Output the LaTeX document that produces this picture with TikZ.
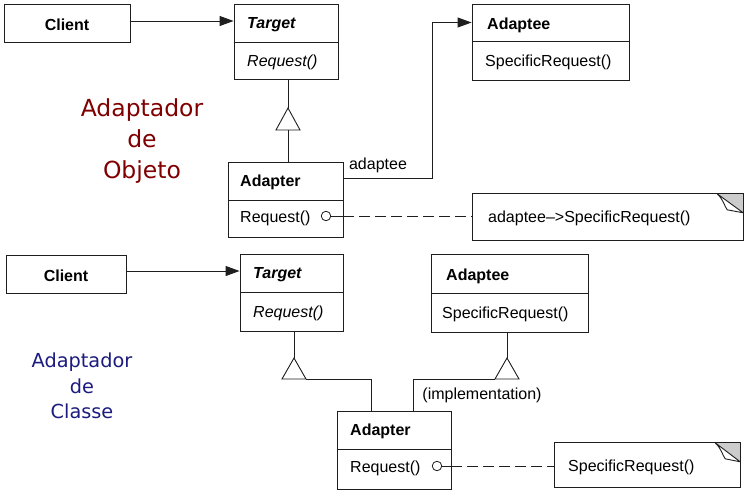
\documentclass[tikz,border=0pt]{standalone}
\usepackage{fontspec}
\setmainfont{Liberation Sans}
\newfontfamily\dejavu{DejaVu Sans}
\usetikzlibrary{arrows.meta}
\definecolor{objred}{RGB}{128,0,0}
\definecolor{clsblue}{RGB}{28,28,128}
\definecolor{foldgray}{RGB}{204,204,204}
\definecolor{linegray}{RGB}{30,30,30}
\begin{document}
\begin{tikzpicture}[x=1pt,y=-1pt,
  every node/.style={font=\fontsize{16}{19}\selectfont, text=black},
  box/.style={draw=linegray, line width=0.9pt, inner sep=0pt, rectangle},
  txt/.style={anchor=west, inner sep=0pt, yshift=-2pt},
  ctxt/.style={inner sep=0pt, yshift=-2pt},
  hd/.style={txt, font=\fontsize{16}{19}\selectfont\bfseries},
  link/.style={draw=linegray, line width=0.9pt},
  assoc/.style={link, -{Triangle[length=14pt,width=10pt]}},
  dep/.style={link, dash pattern=on 11pt off 5pt},
  gen/.style={link, fill=white},
  pin/.style={circle, draw=linegray, fill=white, inner sep=0pt, minimum size=9.5pt, line width=0.8pt},
  noteframe/.style={inner sep=0pt, rectangle},
  title/.style={align=center, inner sep=0pt}
]
\useasboundingbox (0,0) rectangle (747,493);
\fill[white] (0,0) rectangle (747,493);

% ===================== Adaptador de Objeto =====================
\node[box, minimum width=126pt, minimum height=38pt] (clientA) at (67,23) {};
\node[ctxt, font=\fontsize{16}{19}\selectfont\bfseries] (clientAt) at (67,23) {Client};

\node[box, minimum width=104pt, minimum height=38pt] (tgtAh) at (286,23) {};
\node[box, minimum width=104pt, minimum height=37pt] (tgtAb) at (286,60.5) {};
\node[hd, font=\fontsize{16}{19}\selectfont\bfseries\itshape] (tgtAht) at (247,23) {Target};
\node[txt, font=\fontsize{16}{19}\selectfont\itshape] (tgtAbt) at (247,60) {Request()};

\node[box, minimum width=157pt, minimum height=37pt] (adeAh) at (550.5,22.5) {};
\node[box, minimum width=157pt, minimum height=39pt] (adeAb) at (550.5,60.5) {};
\node[hd] (adeAht) at (487,23) {Adaptee};
\node[txt] (adeAbt) at (485,60) {SpecificRequest()};

\node[box, minimum width=115pt, minimum height=38pt] (adpAh) at (285.5,181) {};
\node[box, minimum width=115pt, minimum height=37pt] (adpAb) at (285.5,218.5) {};
\node[hd] (adpAht) at (240,180) {Adapter};
\node[txt] (adpAbt) at (240,216) {Request()};
\node[pin] (cA) at (326,216) {};

\node[noteframe, minimum width=270pt, minimum height=46pt] (noteA) at (608,217) {};
\fill[white] (noteA.south west) -- (noteA.north west) -- ([xshift=-26pt]noteA.north east)
  -- ([yshift=-19pt]noteA.north east) -- (noteA.south east) -- cycle;
\fill[foldgray] ([xshift=-26pt]noteA.north east) -- (noteA.north east) -- ([yshift=-19pt]noteA.north east) -- cycle;
\draw[link, line join=miter] (noteA.south west) -- (noteA.north west) -- ([xshift=-26pt]noteA.north east)
  -- (noteA.north east) -- (noteA.south east) -- cycle;
\draw[link, fill=white, line join=round] ([xshift=-26pt]noteA.north east)
  .. controls ([xshift=-19pt,yshift=-7pt]noteA.north east) and ([xshift=-19pt,yshift=-12pt]noteA.north east) .. ([xshift=-16pt,yshift=-16pt]noteA.north east)
  -- ([yshift=-19pt]noteA.north east) -- cycle;
\node[txt] (noteAt) at (488,216) {adaptee--{>}SpecificRequest()};

% connectors (object adapter)
\draw[assoc] (clientA.east |- 0,21) -- (tgtAh.west |- 0,21);
\coordinate (gA) at (288,108);
\draw[link] (gA |- tgtAb.south) -- (gA);
\draw[gen] (gA) -- ++(-12,22) -- ++(24,0) -- cycle;
\draw[link] ([yshift=-22pt]gA) -- (gA |- adpAh.north);
\coordinate (bendA) at (432,0);
\draw[assoc] ([yshift=3pt]adpAh.east) -| (bendA |- adeAh.west) -- (adeAh.west);
\node[ctxt] (adapteeLbl) at (378,163) {adaptee};
\draw[link] (cA.east) -- (cA.east -| adpAb.east);
\draw[dep] (cA.east -| adpAb.east) -- (cA.east -| noteA.west);

\node[title, font=\dejavu\fontsize{23.5}{31}\selectfont, text=objred] (titleA) at (142,141.5) {Adaptador\\de\\Objeto};

% ===================== Adaptador de Classe =====================
\node[box, minimum width=120pt, minimum height=38pt] (clientB) at (66,274) {};
\node[ctxt, font=\fontsize{16}{19}\selectfont\bfseries] (clientBt) at (66,274) {Client};

\node[box, minimum width=103pt, minimum height=38pt] (tgtBh) at (291.5,273) {};
\node[box, minimum width=103pt, minimum height=39pt] (tgtBb) at (291.5,311.5) {};
\node[hd, font=\fontsize{16}{19}\selectfont\bfseries\itshape] (tgtBht) at (253,273) {Target};
\node[txt, font=\fontsize{16}{19}\selectfont\itshape] (tgtBbt) at (253,311) {Request()};

\node[box, minimum width=157pt, minimum height=39pt] (adeBh) at (509.5,273.5) {};
\node[box, minimum width=157pt, minimum height=39pt] (adeBb) at (509.5,312.5) {};
\node[hd] (adeBht) at (446,274) {Adaptee};
\node[txt] (adeBbt) at (442,312) {SpecificRequest()};

\node[box, minimum width=114pt, minimum height=38pt] (adpBh) at (394,430) {};
\node[box, minimum width=114pt, minimum height=40pt] (adpBb) at (394,469) {};
\node[hd] (adpBht) at (350,429) {Adapter};
\node[txt] (adpBbt) at (350,466) {Request()};
\node[pin] (cB) at (437,466) {};

\node[noteframe, minimum width=185pt, minimum height=44pt] (noteB) at (647.5,465) {};
\fill[white] (noteB.south west) -- (noteB.north west) -- ([xshift=-25pt]noteB.north east)
  -- ([yshift=-19pt]noteB.north east) -- (noteB.south east) -- cycle;
\fill[foldgray] ([xshift=-25pt]noteB.north east) -- (noteB.north east) -- ([yshift=-19pt]noteB.north east) -- cycle;
\draw[link, line join=miter] (noteB.south west) -- (noteB.north west) -- ([xshift=-25pt]noteB.north east)
  -- (noteB.north east) -- (noteB.south east) -- cycle;
\draw[link, fill=white, line join=round] ([xshift=-25pt]noteB.north east)
  .. controls ([xshift=-18pt,yshift=-7pt]noteB.north east) and ([xshift=-18pt,yshift=-12pt]noteB.north east) .. ([xshift=-15pt,yshift=-16pt]noteB.north east)
  -- ([yshift=-19pt]noteB.north east) -- cycle;
\node[txt] (noteBt) at (568,465) {SpecificRequest()};

% connectors (class adapter)
\draw[assoc] (clientB.east |- 0,271) -- (tgtBh.west |- 0,271);
\coordinate (gB1) at (294,358);
\draw[link] (gB1 |- tgtBb.south) -- (gB1);
\draw[gen] (gB1) -- ++(-12,21) -- ++(24,0) -- cycle;
\coordinate (jB1) at (371,0);
\draw[link] ([yshift=-21pt,xshift=12pt]gB1) -| (jB1 |- adpBh.north);

\coordinate (gB2) at (507,358);
\draw[link] (gB2 |- adeBb.south) -- (gB2);
\draw[gen] (gB2) -- ++(-12,21) -- ++(24,0) -- cycle;
\coordinate (jB2) at (413,0);
\draw[link] ([yshift=-21pt,xshift=-12pt]gB2) -| (jB2 |- adpBh.north);
\node[ctxt] (implLbl) at (482,393) {(implementation)};
\draw[link] (cB.east) -- (cB.east -| adpBb.east);
\draw[dep] (cB.east -| adpBb.east) -- (cB.east -| noteB.west);

\node[title, font=\dejavu\fontsize{19.3}{25.5}\selectfont, text=clsblue] (titleB) at (82,386) {Adaptador\\de\\Classe};
\end{tikzpicture}
\end{document}
